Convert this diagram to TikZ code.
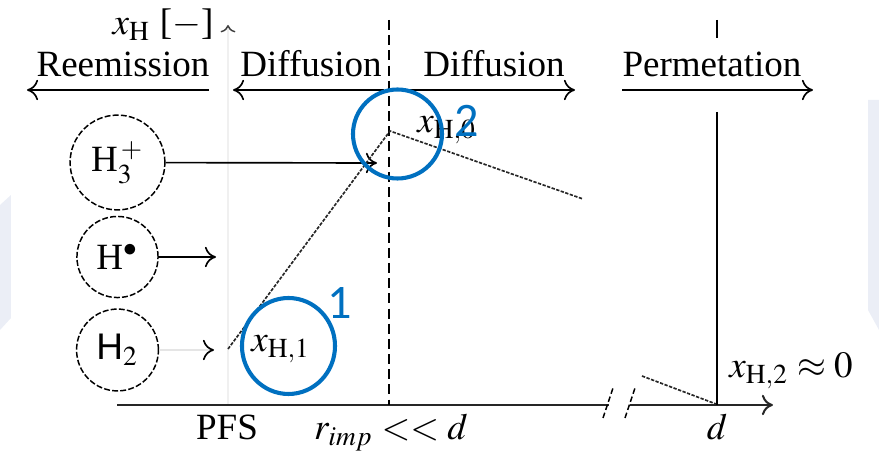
\documentclass[tikz,border=0pt]{standalone}
\usepackage{mathptmx}
\usepackage{fontspec}
\setmainfont{Liberation Serif}
\newfontfamily\sansf{Liberation Sans}
\newfontfamily\annotf{Carlito}
\usetikzlibrary{arrows.meta}
\definecolor{annotblue}{HTML}{0070C0}
\definecolor{wmark}{HTML}{EBEEF6}
\begin{document}
\begin{tikzpicture}[x=0.27pt,y=-0.27pt,
  axisline/.style={line width=0.55pt, black!85},
  arr/.style={line width=0.45pt, -{To[length=3pt,width=5.5pt]}},
  species/.style={circle, draw, line width=0.4pt, dash pattern=on 1.6pt off 0.6pt, inner sep=0pt},
  profile/.style={line width=0.45pt, black!85, dash pattern=on 0.9pt off 0.4pt},
  sepline/.style={line width=0.45pt, dash pattern=on 2.7pt off 1.4pt},
  lbl/.style={inner sep=0pt, anchor=base, font=\fontsize{10}{12}\selectfont},
  annot/.style={draw=annotblue, line width=1.1pt},
  annotnum/.style={text=annotblue, font=\annotf\fontsize{13}{13}\selectfont, inner sep=0pt}
]
\useasboundingbox (0,0) rectangle (879,457);
% faint background marks
\fill[wmark] (0,205) -- (11,195) -- (11,318) -- (0,330) -- cycle;
\fill[wmark] (868,100) -- (879,100) -- (879,330) -- (868,310) -- cycle;

% coordinates
\coordinate (yb) at (228,405);
\coordinate (yt) at (228,25);
\coordinate (ax0) at (117,405);
\coordinate (axb1) at (609,405);
\coordinate (axb2) at (630,405);
\coordinate (ax1) at (773,405);
\coordinate (s0) at (389,20);
\coordinate (s1) at (389,405);
\coordinate (m0) at (717,20);
\coordinate (m1) at (717,38);
\coordinate (m2) at (717,112);
\coordinate (m3) at (717,405);

% y axis (faint)
\draw[gray!12, line width=0.4pt, -{To[length=2pt,width=4pt,color=black!75]}] (yb) -- (yt);
\node[lbl] (ylab) at (163,35) {$x_{\mathrm{H}}$ [$-$]};

% x axis with break
\draw[axisline] (ax0) -- (axb1);
\draw[axisline, -{To[length=3pt,width=5.5pt]}] (axb2) -- (ax1);
\coordinate (b1a) at (603,418); \coordinate (b1b) at (613,388);
\coordinate (b2a) at (625,418); \coordinate (b2b) at (635,388);
\draw[line width=0.4pt, dash pattern=on 1.5pt off 0.8pt] (b1a) -- (b1b);
\draw[line width=0.4pt, dash pattern=on 1.5pt off 0.8pt] (b2a) -- (b2b);

% separators
\draw[sepline] (s0) -- (s1);
\draw[line width=0.5pt] (m0) -- (m1);
\draw[line width=0.5pt] (m2) -- (m3);

% region labels and arrows
\node[lbl] (reem) at (123,77) {Reemission};
\node[lbl] (difl) at (311,77) {Diffusion};
\node[lbl] (difr) at (494,77) {Diffusion};
\node[lbl] (perm) at (712,77) {Permetation};
\coordinate (ra0) at (209,90); \coordinate (ra1) at (27,90);
\coordinate (dl0) at (384,90); \coordinate (dl1) at (233,90);
\coordinate (dr0) at (394,90); \coordinate (dr1) at (575,90);
\coordinate (pa0) at (622,90); \coordinate (pa1) at (813,90);
\draw[arr] (ra0) -- (ra1);
\draw[arr] (dl0) -- (dl1);
\draw[arr] (dr0) -- (dr1);
\draw[arr] (pa0) -- (pa1);

% species
\node[species, minimum size=25.6pt] (h3) at (117.5,162.5) {H$_3^{\,+}$};
\node[species, minimum size=21.9pt] (hr) at (117.5,257) {H$^{\bullet}$};
\node[species, minimum size=22.1pt] (h2) at (117.5,350) {\sansf H$_2$};
\coordinate (h3e) at (377,163);
\coordinate (hre) at (216,257);
\coordinate (h2e) at (214,350);
\draw[arr] (h3) -- (h3e);
\draw[arr] (hr) -- (hre);
\draw[gray!20, line width=0.45pt, -{To[length=3pt,width=5.5pt,color=black]}] (h2) -- (h2e);

% concentration profile
\coordinate (p1) at (228,349);
\coordinate (p0) at (390,131);
\coordinate (p0r) at (583,199);
\coordinate (q1) at (642,376);
\coordinate (q2) at (716,404);
\draw[profile] (p1) -- (p0) -- (p0r);
\draw[profile] (q1) -- (q2);

% value labels
\node[lbl] (xh1) at (281,352) {$x_{\mathrm{H},1}$};
\node[lbl] (xh0) at (447,133) {$x_{\mathrm{H},0}$};
\node[lbl] (xh2) at (791,378) {$x_{\mathrm{H},2}\approx 0$};
\node[lbl] (pfs) at (227,440) {PFS};
\node[lbl] (rimp) at (391,440) {$r_{imp} << d$};
\node[lbl] (dlab) at (717,440) {$d$};

% blue annotations
\draw[annot] (288.5,346) ellipse [x radius=46.5, y radius=48];
\draw[annot] (397.5,134) circle [radius=44.5];
\node[annotnum] (n1) at (340,303) {1};
\node[annotnum] (n2) at (467,121) {2};
\end{tikzpicture}
\end{document}
